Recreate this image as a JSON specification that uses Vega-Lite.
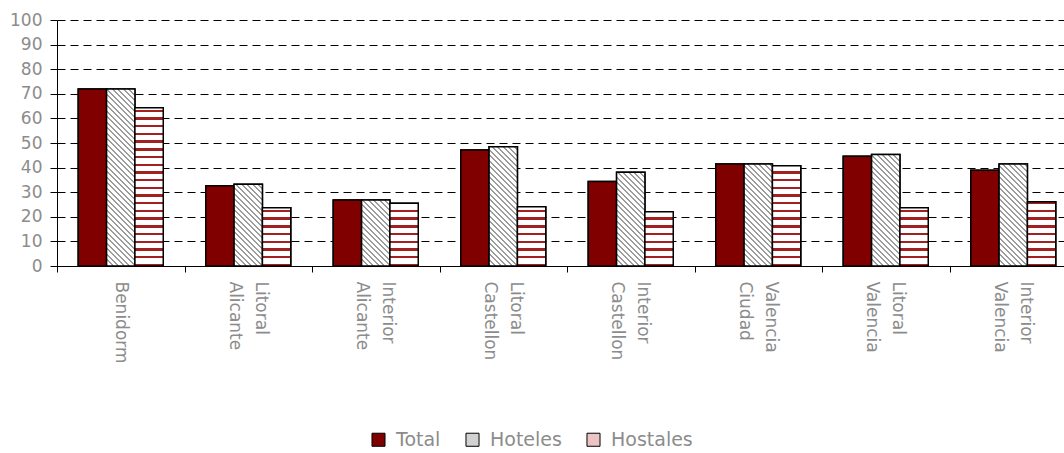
{
  "$schema": "https://vega.github.io/schema/vega-lite/v6.json",
  "autosize": "none",
  "width": 1007,
  "height": 246,
  "padding": {"left": 57, "top": 20, "right": 0, "bottom": 187},
  "background": "white",
  "params": [
    {"name": "stripeStops", "value": [
      {"offset":0,"color":"#a32020"},{"offset":0.012,"color":"#a32020"},{"offset":0.012,"color":"#fff"},{"offset":0.04,"color":"#fff"},
      {"offset":0.04,"color":"#a32020"},{"offset":0.052,"color":"#a32020"},{"offset":0.052,"color":"#fff"},{"offset":0.08,"color":"#fff"},
      {"offset":0.08,"color":"#a32020"},{"offset":0.092,"color":"#a32020"},{"offset":0.092,"color":"#fff"},{"offset":0.12,"color":"#fff"},
      {"offset":0.12,"color":"#a32020"},{"offset":0.132,"color":"#a32020"},{"offset":0.132,"color":"#fff"},{"offset":0.16,"color":"#fff"},
      {"offset":0.16,"color":"#a32020"},{"offset":0.172,"color":"#a32020"},{"offset":0.172,"color":"#fff"},{"offset":0.2,"color":"#fff"},
      {"offset":0.2,"color":"#a32020"},{"offset":0.212,"color":"#a32020"},{"offset":0.212,"color":"#fff"},{"offset":0.24,"color":"#fff"},
      {"offset":0.24,"color":"#a32020"},{"offset":0.252,"color":"#a32020"},{"offset":0.252,"color":"#fff"},{"offset":0.28,"color":"#fff"},
      {"offset":0.28,"color":"#a32020"},{"offset":0.292,"color":"#a32020"},{"offset":0.292,"color":"#fff"},{"offset":0.32,"color":"#fff"},
      {"offset":0.32,"color":"#a32020"},{"offset":0.332,"color":"#a32020"},{"offset":0.332,"color":"#fff"},{"offset":0.36,"color":"#fff"},
      {"offset":0.36,"color":"#a32020"},{"offset":0.372,"color":"#a32020"},{"offset":0.372,"color":"#fff"},{"offset":0.4,"color":"#fff"},
      {"offset":0.4,"color":"#a32020"},{"offset":0.412,"color":"#a32020"},{"offset":0.412,"color":"#fff"},{"offset":0.44,"color":"#fff"},
      {"offset":0.44,"color":"#a32020"},{"offset":0.452,"color":"#a32020"},{"offset":0.452,"color":"#fff"},{"offset":0.48,"color":"#fff"},
      {"offset":0.48,"color":"#a32020"},{"offset":0.492,"color":"#a32020"},{"offset":0.492,"color":"#fff"},{"offset":0.52,"color":"#fff"},
      {"offset":0.52,"color":"#a32020"},{"offset":0.532,"color":"#a32020"},{"offset":0.532,"color":"#fff"},{"offset":0.56,"color":"#fff"},
      {"offset":0.56,"color":"#a32020"},{"offset":0.572,"color":"#a32020"},{"offset":0.572,"color":"#fff"},{"offset":0.6,"color":"#fff"},
      {"offset":0.6,"color":"#a32020"},{"offset":0.612,"color":"#a32020"},{"offset":0.612,"color":"#fff"},{"offset":0.64,"color":"#fff"},
      {"offset":0.64,"color":"#a32020"},{"offset":0.652,"color":"#a32020"},{"offset":0.652,"color":"#fff"},{"offset":0.68,"color":"#fff"},
      {"offset":0.68,"color":"#a32020"},{"offset":0.692,"color":"#a32020"},{"offset":0.692,"color":"#fff"},{"offset":0.72,"color":"#fff"},
      {"offset":0.72,"color":"#a32020"},{"offset":0.732,"color":"#a32020"},{"offset":0.732,"color":"#fff"},{"offset":0.76,"color":"#fff"},
      {"offset":0.76,"color":"#a32020"},{"offset":0.772,"color":"#a32020"},{"offset":0.772,"color":"#fff"},{"offset":0.8,"color":"#fff"},
      {"offset":0.8,"color":"#a32020"},{"offset":0.812,"color":"#a32020"},{"offset":0.812,"color":"#fff"},{"offset":0.84,"color":"#fff"},
      {"offset":0.84,"color":"#a32020"},{"offset":0.852,"color":"#a32020"},{"offset":0.852,"color":"#fff"},{"offset":0.88,"color":"#fff"},
      {"offset":0.88,"color":"#a32020"},{"offset":0.892,"color":"#a32020"},{"offset":0.892,"color":"#fff"},{"offset":0.92,"color":"#fff"},
      {"offset":0.92,"color":"#a32020"},{"offset":0.932,"color":"#a32020"},{"offset":0.932,"color":"#fff"},{"offset":0.96,"color":"#fff"},
      {"offset":0.96,"color":"#a32020"},{"offset":0.972,"color":"#a32020"},{"offset":0.972,"color":"#fff"},{"offset":1,"color":"#fff"}
    ]},
    {"name": "hatchStops", "value": [
      {"offset":0,"color":"#9c9c9c"},{"offset":0.01,"color":"#9c9c9c"},{"offset":0.01,"color":"#fff"},{"offset":0.025,"color":"#fff"},
      {"offset":0.025,"color":"#9c9c9c"},{"offset":0.035,"color":"#9c9c9c"},{"offset":0.035,"color":"#fff"},{"offset":0.05,"color":"#fff"},
      {"offset":0.05,"color":"#9c9c9c"},{"offset":0.06,"color":"#9c9c9c"},{"offset":0.06,"color":"#fff"},{"offset":0.075,"color":"#fff"},
      {"offset":0.075,"color":"#9c9c9c"},{"offset":0.085,"color":"#9c9c9c"},{"offset":0.085,"color":"#fff"},{"offset":0.1,"color":"#fff"},
      {"offset":0.1,"color":"#9c9c9c"},{"offset":0.11,"color":"#9c9c9c"},{"offset":0.11,"color":"#fff"},{"offset":0.125,"color":"#fff"},
      {"offset":0.125,"color":"#9c9c9c"},{"offset":0.135,"color":"#9c9c9c"},{"offset":0.135,"color":"#fff"},{"offset":0.15,"color":"#fff"},
      {"offset":0.15,"color":"#9c9c9c"},{"offset":0.16,"color":"#9c9c9c"},{"offset":0.16,"color":"#fff"},{"offset":0.175,"color":"#fff"},
      {"offset":0.175,"color":"#9c9c9c"},{"offset":0.185,"color":"#9c9c9c"},{"offset":0.185,"color":"#fff"},{"offset":0.2,"color":"#fff"},
      {"offset":0.2,"color":"#9c9c9c"},{"offset":0.21,"color":"#9c9c9c"},{"offset":0.21,"color":"#fff"},{"offset":0.225,"color":"#fff"},
      {"offset":0.225,"color":"#9c9c9c"},{"offset":0.235,"color":"#9c9c9c"},{"offset":0.235,"color":"#fff"},{"offset":0.25,"color":"#fff"},
      {"offset":0.25,"color":"#9c9c9c"},{"offset":0.26,"color":"#9c9c9c"},{"offset":0.26,"color":"#fff"},{"offset":0.275,"color":"#fff"},
      {"offset":0.275,"color":"#9c9c9c"},{"offset":0.285,"color":"#9c9c9c"},{"offset":0.285,"color":"#fff"},{"offset":0.3,"color":"#fff"},
      {"offset":0.3,"color":"#9c9c9c"},{"offset":0.31,"color":"#9c9c9c"},{"offset":0.31,"color":"#fff"},{"offset":0.325,"color":"#fff"},
      {"offset":0.325,"color":"#9c9c9c"},{"offset":0.335,"color":"#9c9c9c"},{"offset":0.335,"color":"#fff"},{"offset":0.35,"color":"#fff"},
      {"offset":0.35,"color":"#9c9c9c"},{"offset":0.36,"color":"#9c9c9c"},{"offset":0.36,"color":"#fff"},{"offset":0.375,"color":"#fff"},
      {"offset":0.375,"color":"#9c9c9c"},{"offset":0.385,"color":"#9c9c9c"},{"offset":0.385,"color":"#fff"},{"offset":0.4,"color":"#fff"},
      {"offset":0.4,"color":"#9c9c9c"},{"offset":0.41,"color":"#9c9c9c"},{"offset":0.41,"color":"#fff"},{"offset":0.425,"color":"#fff"},
      {"offset":0.425,"color":"#9c9c9c"},{"offset":0.435,"color":"#9c9c9c"},{"offset":0.435,"color":"#fff"},{"offset":0.45,"color":"#fff"},
      {"offset":0.45,"color":"#9c9c9c"},{"offset":0.46,"color":"#9c9c9c"},{"offset":0.46,"color":"#fff"},{"offset":0.475,"color":"#fff"},
      {"offset":0.475,"color":"#9c9c9c"},{"offset":0.485,"color":"#9c9c9c"},{"offset":0.485,"color":"#fff"},{"offset":0.5,"color":"#fff"},
      {"offset":0.5,"color":"#9c9c9c"},{"offset":0.51,"color":"#9c9c9c"},{"offset":0.51,"color":"#fff"},{"offset":0.525,"color":"#fff"},
      {"offset":0.525,"color":"#9c9c9c"},{"offset":0.535,"color":"#9c9c9c"},{"offset":0.535,"color":"#fff"},{"offset":0.55,"color":"#fff"},
      {"offset":0.55,"color":"#9c9c9c"},{"offset":0.56,"color":"#9c9c9c"},{"offset":0.56,"color":"#fff"},{"offset":0.575,"color":"#fff"},
      {"offset":0.575,"color":"#9c9c9c"},{"offset":0.585,"color":"#9c9c9c"},{"offset":0.585,"color":"#fff"},{"offset":0.6,"color":"#fff"},
      {"offset":0.6,"color":"#9c9c9c"},{"offset":0.61,"color":"#9c9c9c"},{"offset":0.61,"color":"#fff"},{"offset":0.625,"color":"#fff"},
      {"offset":0.625,"color":"#9c9c9c"},{"offset":0.635,"color":"#9c9c9c"},{"offset":0.635,"color":"#fff"},{"offset":0.65,"color":"#fff"},
      {"offset":0.65,"color":"#9c9c9c"},{"offset":0.66,"color":"#9c9c9c"},{"offset":0.66,"color":"#fff"},{"offset":0.675,"color":"#fff"},
      {"offset":0.675,"color":"#9c9c9c"},{"offset":0.685,"color":"#9c9c9c"},{"offset":0.685,"color":"#fff"},{"offset":0.7,"color":"#fff"},
      {"offset":0.7,"color":"#9c9c9c"},{"offset":0.71,"color":"#9c9c9c"},{"offset":0.71,"color":"#fff"},{"offset":0.725,"color":"#fff"},
      {"offset":0.725,"color":"#9c9c9c"},{"offset":0.735,"color":"#9c9c9c"},{"offset":0.735,"color":"#fff"},{"offset":0.75,"color":"#fff"},
      {"offset":0.75,"color":"#9c9c9c"},{"offset":0.76,"color":"#9c9c9c"},{"offset":0.76,"color":"#fff"},{"offset":0.775,"color":"#fff"},
      {"offset":0.775,"color":"#9c9c9c"},{"offset":0.785,"color":"#9c9c9c"},{"offset":0.785,"color":"#fff"},{"offset":0.8,"color":"#fff"},
      {"offset":0.8,"color":"#9c9c9c"},{"offset":0.81,"color":"#9c9c9c"},{"offset":0.81,"color":"#fff"},{"offset":0.825,"color":"#fff"},
      {"offset":0.825,"color":"#9c9c9c"},{"offset":0.835,"color":"#9c9c9c"},{"offset":0.835,"color":"#fff"},{"offset":0.85,"color":"#fff"},
      {"offset":0.85,"color":"#9c9c9c"},{"offset":0.86,"color":"#9c9c9c"},{"offset":0.86,"color":"#fff"},{"offset":0.875,"color":"#fff"},
      {"offset":0.875,"color":"#9c9c9c"},{"offset":0.885,"color":"#9c9c9c"},{"offset":0.885,"color":"#fff"},{"offset":0.9,"color":"#fff"},
      {"offset":0.9,"color":"#9c9c9c"},{"offset":0.91,"color":"#9c9c9c"},{"offset":0.91,"color":"#fff"},{"offset":0.925,"color":"#fff"},
      {"offset":0.925,"color":"#9c9c9c"},{"offset":0.935,"color":"#9c9c9c"},{"offset":0.935,"color":"#fff"},{"offset":0.95,"color":"#fff"},
      {"offset":0.95,"color":"#9c9c9c"},{"offset":0.96,"color":"#9c9c9c"},{"offset":0.96,"color":"#fff"},{"offset":0.975,"color":"#fff"},
      {"offset":0.975,"color":"#9c9c9c"},{"offset":0.985,"color":"#9c9c9c"},{"offset":0.985,"color":"#fff"},{"offset":1,"color":"#fff"}
    ]}
  ],
  "data": {"values": [
    {"region":"Benidorm","serie":"Total","value":72},
    {"region":"Benidorm","serie":"Hoteles","value":72},
    {"region":"Benidorm","serie":"Hostales","value":64.3},
    {"region":"Litoral Alicante","serie":"Total","value":32.6},
    {"region":"Litoral Alicante","serie":"Hoteles","value":33.2},
    {"region":"Litoral Alicante","serie":"Hostales","value":23.7},
    {"region":"Interior Alicante","serie":"Total","value":26.8},
    {"region":"Interior Alicante","serie":"Hoteles","value":26.8},
    {"region":"Interior Alicante","serie":"Hostales","value":25.5},
    {"region":"Litoral Castellon","serie":"Total","value":47.2},
    {"region":"Litoral Castellon","serie":"Hoteles","value":48.5},
    {"region":"Litoral Castellon","serie":"Hostales","value":24.1},
    {"region":"Interior Castellon","serie":"Total","value":34.3},
    {"region":"Interior Castellon","serie":"Hoteles","value":38.1},
    {"region":"Interior Castellon","serie":"Hostales","value":22.1},
    {"region":"Valencia Ciudad","serie":"Total","value":41.5},
    {"region":"Valencia Ciudad","serie":"Hoteles","value":41.5},
    {"region":"Valencia Ciudad","serie":"Hostales","value":40.8},
    {"region":"Litoral Valencia","serie":"Total","value":44.6},
    {"region":"Litoral Valencia","serie":"Hoteles","value":45.3},
    {"region":"Litoral Valencia","serie":"Hostales","value":23.7},
    {"region":"Interior Valencia","serie":"Total","value":38.9},
    {"region":"Interior Valencia","serie":"Hoteles","value":41.5},
    {"region":"Interior Valencia","serie":"Hostales","value":26.1}
  ]},
  "encoding": {
    "x": {
      "field": "region", "type": "nominal", "sort": null,
      "scale": {"paddingInner": 0, "paddingOuter": 0, "range": [0, 1020]},
      "axis": {
        "title": null, "labelAngle": 90, "labelAlign": "left", "labelBaseline": "middle",
        "labelExpr": "split(datum.label, ' ')", "labelLineHeight": 26, "labelPadding": 9,
        "labelOffset": {"condition": {"test": "datum.value == 'Benidorm'", "value": 0}, "value": 12},
        "tickBand": "extent", "tickSize": 6, "grid": false
      }
    },
    "xOffset": {"field": "serie", "type": "nominal", "sort": ["Total", "Hoteles", "Hostales"],
      "scale": {"domain": ["Total", "Hoteles", "Hostales"], "paddingInner": 0, "paddingOuter": 0.75}},
    "y": {
      "field": "value", "type": "quantitative",
      "scale": {"domain": [0, 100], "nice": false},
      "axis": {"title": null, "values": [0,10,20,30,40,50,60,70,80,90,100], "grid": true,
        "gridColor": "#000", "gridDash": [8, 5], "gridWidth": 1, "tickSize": 7, "labelPadding": 8}
    }
  },
  "layer": [
    {
      "mark": {"type": "bar", "stroke": "#000", "strokeWidth": 1.5},
      "encoding": {
        "color": {"field": "serie", "type": "nominal",
          "scale": {"domain": ["Total", "Hoteles", "Hostales"], "range": ["#800000", "#d2d2d2", "#ecc4c4"]},
          "legend": {"title": null, "orient": "none", "legendX": 312, "legendY": 410, "direction": "horizontal",
            "encode": {"symbols": {"update": {
              "fill": {"signal": "datum.value == 'Hoteles' ? {gradient: 'linear', x1: 0, y1: 1, x2: 8.46, y2: -7.46, stops: hatchStops} : datum.value == 'Hostales' ? {gradient: 'linear', x1: 0, y1: 1, x2: 0, y2: -13.8, stops: stripeStops} : '#800000'"},
              "stroke": {"value": "#000"}
            }}}}}
      }
    },
    {
      "mark": {"type": "bar", "stroke": "#000", "strokeWidth": 1.5,
        "fill": {"expr": "datum.serie == 'Hoteles' ? {gradient: 'linear', x1: 0, y1: 1, x2: (220 / (28.33 / (datum.value * 2.46) + datum.value * 2.46 / 28.33)) / (datum.value * 2.46), y2: 1 - (220 / (28.33 / (datum.value * 2.46) + datum.value * 2.46 / 28.33)) / 28.33, stops: hatchStops} : datum.serie == 'Hostales' ? {gradient: 'linear', x1: 0, y1: 1, x2: 0, y2: 1 - 192.5 / (datum.value * 2.46), stops: stripeStops} : '#800000'"}
      }
    }
  ],
  "config": {
    "view": {"stroke": null},
    "axis": {
      "domainColor": "#000", "domainWidth": 1, "tickColor": "#000", "tickWidth": 1,
      "labelColor": "#8c8c8c", "labelFont": "DejaVu Sans", "labelFontSize": 17
    },
    "legend": {
      "symbolType": "square", "symbolSize": 170, "symbolStrokeColor": "#000", "symbolStrokeWidth": 1,
      "labelColor": "#8c8c8c", "labelFont": "DejaVu Sans", "labelFontSize": 19,
      "labelOffset": 8, "columnPadding": 22
    }
  }
}
